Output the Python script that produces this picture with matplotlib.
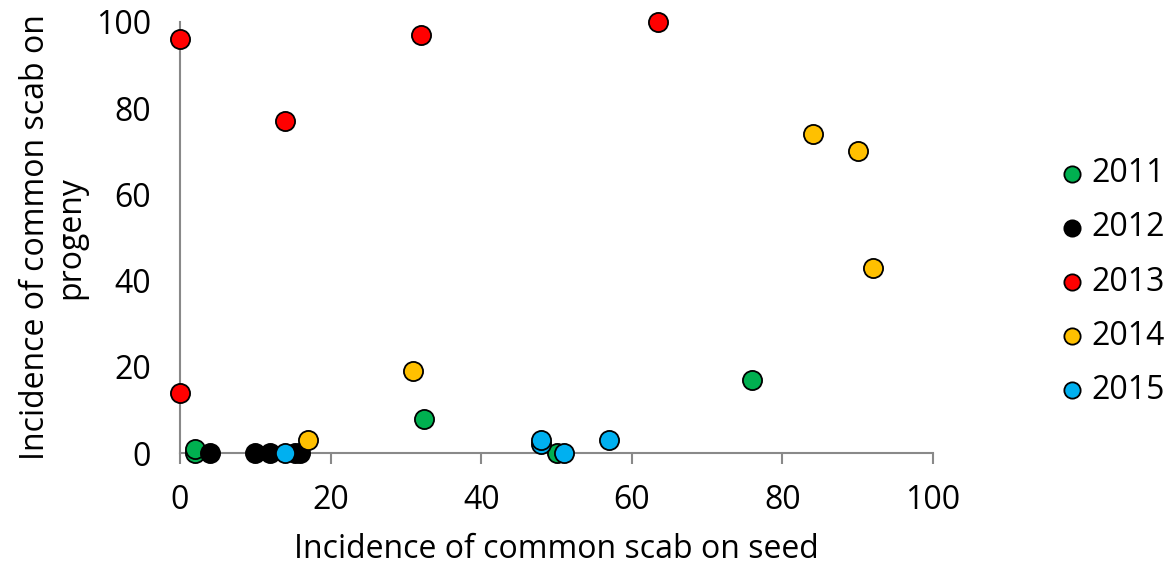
import matplotlib.pyplot as plt

years = ["2011", "2012", "2013", "2014", "2015"]
colors = ["#00b050", "#000000", "#ff0000", "#ffc000", "#00b0f0"]

x_2011 = [2, 2, 32.4, 50, 76]
y_2011 = [0, 1, 8, 0, 17]
x_2012 = [4, 10, 12, 15.3, 16]
y_2012 = [0, 0, 0, 0, 0]
x_2013 = [0, 0, 14, 32, 63.5]
y_2013 = [96, 14, 77, 97, 100]
x_2014 = [17, 31, 84, 90, 92]
y_2014 = [3, 19, 74, 70, 43]
x_2015 = [14, 48, 48, 51, 57]
y_2015 = [0, 2, 3, 0, 3]

xs = [x_2011, x_2012, x_2013, x_2014, x_2015]
ys = [y_2011, y_2012, y_2013, y_2014, y_2015]

plt.rcParams["font.family"] = ["Open Sans", "DejaVu Sans"]

fig = plt.figure(figsize=(11.67, 5.7), dpi=100)
ax = fig.add_axes([180 / 1167, 1 - 453 / 570, 753 / 1167, 431 / 570])

for year, c, x, y in zip(years, colors, xs, ys):
    ax.scatter(x, y, s=190, c=c, edgecolors="black", linewidths=1.3,
               label=year, zorder=3, clip_on=False)

ax.set_xlim(0, 100)
ax.set_ylim(0, 100)
ax.set_xticks(range(0, 101, 20))
ax.set_yticks(range(0, 101, 20))

for side in ["top", "right"]:
    ax.spines[side].set_visible(False)
for side in ["left", "bottom"]:
    ax.spines[side].set_color("#898989")
    ax.spines[side].set_linewidth(1.5)
ax.tick_params(axis="both", colors="#898989", width=1.5, length=8,
               labelsize=23, labelcolor="black")
ax.tick_params(axis="x", pad=14)
ax.tick_params(axis="y", length=0, pad=21)

ax.set_xlabel("Incidence of common scab on seed", fontsize=23, labelpad=12)
ax.set_ylabel("Incidence of common scab on\nprogeny", fontsize=23, labelpad=6,
              linespacing=1.1)

fig.legend(loc="center left", bbox_to_anchor=(1056 / 1167, 1 - 282 / 570),
           frameon=False, fontsize=23, markerscale=0.85, borderpad=0,
           borderaxespad=0, handletextpad=0.1, labelspacing=0.66,
           handlelength=1.0)

fig.savefig("out.png", dpi=100)
